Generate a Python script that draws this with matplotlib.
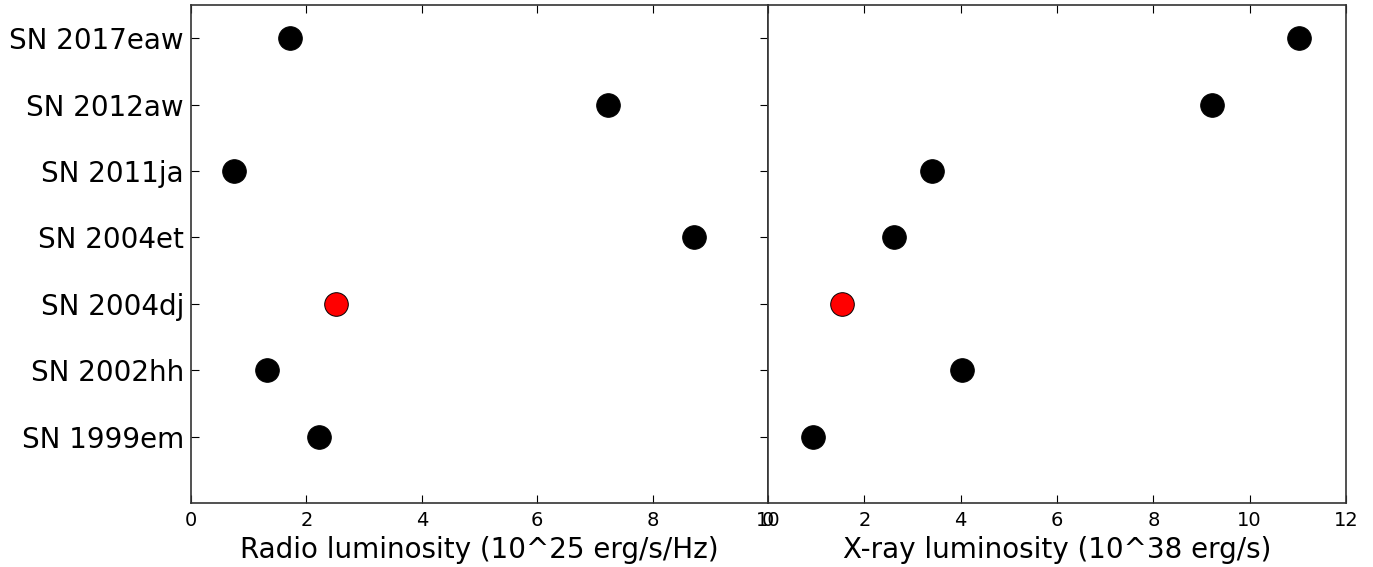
import matplotlib
matplotlib.use("Agg")
import matplotlib.pyplot as plt

names = ["SN 1999em", "SN 2002hh", "SN 2004dj", "SN 2004et", "SN 2011ja", "SN 2012aw", "SN 2017eaw"]
radio = [2.22, 1.32, 2.51, 8.72, 0.75, 7.22, 1.72]
xray = [0.93, 4.02, 1.54, 2.61, 3.40, 9.21, 11.02]
colors = ["black", "black", "red", "black", "black", "black", "black"]
radio_ticks = [0, 2, 4, 6, 8, 10]
xray_ticks = [0, 2, 4, 6, 8, 10, 12]

fig = plt.figure(figsize=(13.73, 5.67), dpi=100)
ax1 = fig.add_axes([191/1373, 1-503/567, 577/1373, 498/567])
ax2 = fig.add_axes([768/1373, 1-503/567, 578/1373, 498/567], sharey=ax1)

ypos = list(range(len(names)))
for ax, vals, ticks in [(ax1, radio, radio_ticks), (ax2, xray, xray_ticks)]:
    for y, v, c in zip(ypos, vals, colors):
        ax.plot(v, y, 'o', color=c, markeredgecolor='black', markeredgewidth=0.7, markersize=17)
    ax.set_xlim(ticks[0], ticks[-1])
    ax.set_xticks(ticks)
    ax.tick_params(direction='in', top=True, length=6, labelsize=14, pad=6)
    for s in ax.spines.values():
        s.set_color('#333333')
        s.set_linewidth(1.2)

ax1.tick_params(right=True)
ax1.set_ylim(-1, 6.5)
ax1.set_yticks(ypos)
ax1.set_yticklabels(names, fontsize=20)
ax1.tick_params(axis='y', pad=5)
ax2.tick_params(left=False, right=False, labelleft=False)
ax1.set_xlabel("Radio luminosity (10^25 erg/s/Hz)", fontsize=20, labelpad=4)
ax2.set_xlabel("X-ray luminosity (10^38 erg/s)", fontsize=20, labelpad=4)

fig.savefig("out.png", dpi=100)
